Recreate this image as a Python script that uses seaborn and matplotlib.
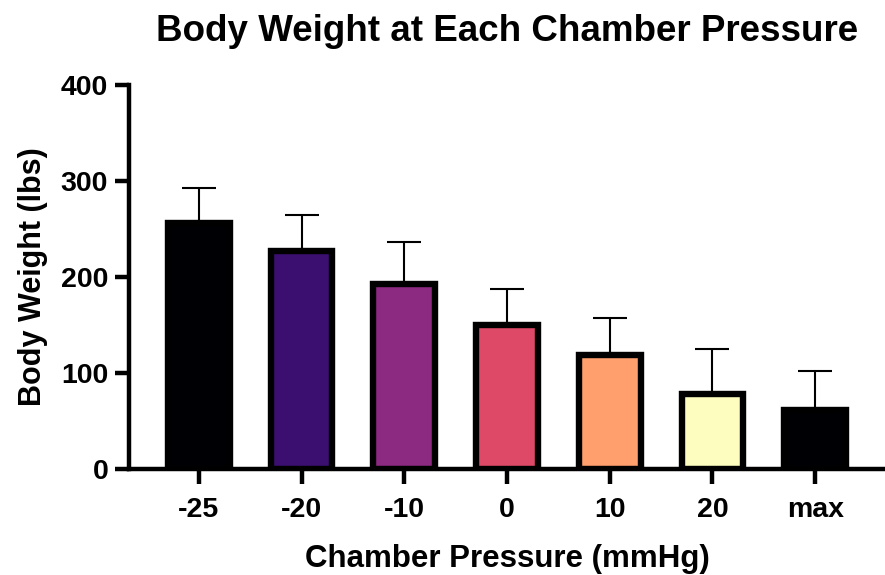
import numpy as np
import pandas as pd
import matplotlib
matplotlib.use("Agg")
import matplotlib.pyplot as plt
import seaborn as sns

categories = ["-25", "-20", "-10", "0", "10", "20", "max"]
means = [256, 227, 193, 150, 119, 78, 61]
sds = [37, 38, 43, 37, 38, 47, 41]
colors = ["#000004", "#3b0f70", "#8c2981", "#de4968", "#fe9f6d", "#fcfdbf", "#000004"]
yticks = [0, 100, 200, 300, 400]

sns.set_style("ticks")
plt.rcParams["font.family"] = ["Liberation Sans", "DejaVu Sans"]
plt.rcParams["font.weight"] = "bold"
for k in ["text.color", "axes.labelcolor", "xtick.color", "ytick.color", "axes.edgecolor"]:
    plt.rcParams[k] = "black"

df = pd.DataFrame({"pressure": categories, "weight": means})

fig = plt.figure(figsize=(8.85, 5.75), dpi=100)
ax = fig.add_axes([129 / 885, 1 - 469 / 575, 1 - 129 / 885, (469 - 85) / 575])

pos = np.arange(len(categories))
ax.errorbar(pos, means, yerr=[np.zeros(len(sds)), sds], fmt="none",
            ecolor="black", elinewidth=1.5, capsize=12, capthick=1.5, zorder=1)

sns.barplot(data=df, x="pressure", y="weight", hue="pressure", palette=colors,
            legend=False, width=0.6, edgecolor="black", linewidth=4.6,
            ax=ax, zorder=2, saturation=1)

ax.set_xlim(-0.68, 6.68)
ax.set_ylim(0, 400)
ax.set_yticks(yticks)
ax.set_yticklabels([str(t) for t in yticks])

for s in ["top", "right"]:
    ax.spines[s].set_visible(False)
for s in ["left", "bottom"]:
    ax.spines[s].set_linewidth(3.2)
    ax.spines[s].set_color("black")
    ax.spines[s].set_capstyle("projecting")
ax.tick_params(axis="y", width=3.2, length=10, color="black", labelsize=20.5, pad=5)
ax.tick_params(axis="x", width=3.2, length=11, color="black", labelsize=20.5, pad=9)
for lab in ax.get_xticklabels() + ax.get_yticklabels():
    lab.set_fontweight("bold")

ax.set_xlabel("Chamber Pressure (mmHg)", fontsize=22.5, fontweight="bold", labelpad=15)
ax.set_ylabel("Body Weight (lbs)", fontsize=22, fontweight="bold", labelpad=9)
ax.set_title("Body Weight at Each Chamber Pressure", fontsize=26.5, fontweight="bold", pad=32)

fig.savefig("out.png", dpi=100)
